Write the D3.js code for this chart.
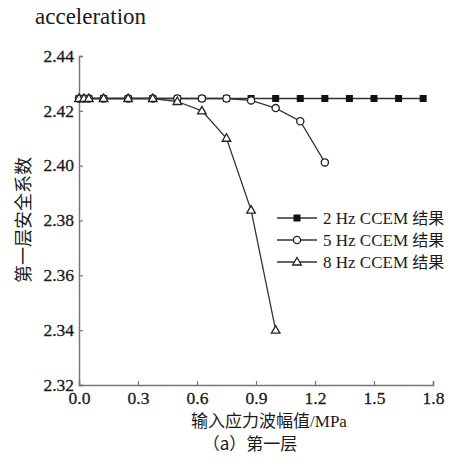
<!DOCTYPE html>
<html>
<head>
<meta charset="utf-8">
<script src="https://cdn.jsdelivr.net/npm/d3@7"></script>
<style>
  body { margin: 0; background: #fff; }
  svg text { font-family: "Liberation Serif", "Times New Roman", serif; fill: #1a1a1a; }
  svg .cjk { font-family: "Noto Sans CJK SC", sans-serif; }
</style>
</head>
<body>
<svg id="chart"></svg>
<script>
// data
let xValues = [0, 0.025, 0.05, 0.125, 0.25, 0.375, 0.5, 0.625, 0.75, 0.875, 1.0, 1.125, 1.25, 1.375, 1.5, 1.625, 1.75]
let hz2 = [2.4245, 2.4245, 2.4245, 2.4245, 2.4245, 2.4245, 2.4245, 2.4245, 2.4245, 2.4245, 2.4245, 2.4245, 2.4245, 2.4245, 2.4245, 2.4245, 2.4245]
let hz5 = [2.4245, 2.4245, 2.4245, 2.4245, 2.4245, 2.4245, 2.4245, 2.4245, 2.4245, 2.4238, 2.421, 2.4162, 2.4012]
let hz8 = [2.4245, 2.4245, 2.4245, 2.4245, 2.4245, 2.4245, 2.4234, 2.420, 2.410, 2.3838, 2.340]
let seriesHz = ["2 Hz CCEM ", "5 Hz CCEM ", "8 Hz CCEM "]
let seriesSuffix = "结果"
let xTicks = [0, 0.3, 0.6, 0.9, 1.2, 1.5, 1.8]
let yTicks = [2.32, 2.34, 2.36, 2.38, 2.40, 2.42, 2.44]

let width = 470
let height = 467

let svg = d3.select("#chart").attr("width", width).attr("height", height)

let xScale = d3.scaleLinear().domain([0, 1.8]).range([79, 433])
let yScale = d3.scaleLinear().domain([2.32, 2.44]).range([385, 56])

let serif = "'Liberation Serif', 'Times New Roman', serif"

// title fragment at the top
svg.append("text")
    .attr("x", 35).attr("y", 24)
    .style("font-size", "23px")
    .text("acceleration")

// axes
let axisColor = "#777"
let xAxis = d3.axisBottom(xScale).tickValues(xTicks).tickSize(-4).tickFormat(d3.format(".1f"))
let yAxis = d3.axisLeft(yScale).tickValues(yTicks).tickSize(-4).tickFormat(d3.format(".2f"))

let gx = svg.append("g")
    .attr("transform", "translate(0," + yScale(2.32) + ")")
    .call(xAxis)
gx.attr("font-family", serif)
gx.selectAll("text").attr("y", 5).attr("dy", "0.8em")
    .style("font-family", serif).style("font-size", "17.5px")
    .attr("stroke", "#1a1a1a").attr("stroke-width", 0.3)

let gy = svg.append("g")
    .attr("transform", "translate(" + xScale(0) + ",0)")
    .call(yAxis)
gy.attr("font-family", serif)
gy.selectAll("text").attr("x", -5).attr("dy", "0.3em")
    .style("font-family", serif).style("font-size", "17.5px")
    .attr("stroke", "#1a1a1a").attr("stroke-width", 0.3)

svg.selectAll(".domain").attr("stroke", axisColor).attr("stroke-width", 1.5)
svg.selectAll(".tick line").attr("stroke", axisColor).attr("stroke-width", 1.2)

// axis titles
svg.append("text")
    .attr("class", "cjk")
    .attr("transform", "translate(30," + 220 + ") rotate(-90)")
    .attr("text-anchor", "middle")
    .style("font-size", "18px")
    .text("第一层安全系数")

let xt = svg.append("text")
    .attr("x", 269).attr("y", 427)
    .attr("text-anchor", "middle")
    .style("font-size", "17px")
xt.append("tspan").attr("class", "cjk").text("输入应力波幅值")
xt.append("tspan").text("/MPa")

svg.append("text")
    .attr("class", "cjk")
    .attr("x", 250).attr("y", 450)
    .attr("text-anchor", "middle")
    .style("font-size", "17px")
    .text("（a）第一层")

// series
let lineColor = "#333"
let line = d3.line()
    .x((d) => xScale(d[0]))
    .y((d) => yScale(d[1]))

let allSeries = [hz2, hz5, hz8].map((vals) => vals.map((v, i) => [xValues[i], v]))

let drawMarker = (g, type, x, y) => {
    if (type === 0) {
        g.append("rect")
            .attr("x", x - 3.5).attr("y", y - 3.5)
            .attr("width", 7).attr("height", 7)
            .attr("fill", "#111")
    } else if (type === 1) {
        g.append("circle")
            .attr("cx", x).attr("cy", y).attr("r", 3.6)
            .attr("fill", "#fff").attr("stroke", "#222").attr("stroke-width", 1.3)
    } else {
        g.append("path")
            .attr("d", d3.symbol().type(d3.symbolTriangle).size(32)())
            .attr("transform", "translate(" + x + "," + (y + 0.5) + ")")
            .attr("fill", "#fff").attr("stroke", "#222").attr("stroke-width", 1.3)
    }
}

allSeries.forEach((pts, k) => {
    let g = svg.append("g")
    g.append("path")
        .datum(pts)
        .attr("d", line)
        .attr("fill", "none")
        .attr("stroke", lineColor)
        .attr("stroke-width", 1.3)
    pts.forEach((p) => drawMarker(g, k, xScale(p[0]), yScale(p[1])))
})

// legend
let legendY = [218, 240, 262]
seriesHz.forEach((name, k) => {
    let g = svg.append("g")
    g.append("line")
        .attr("x1", 277).attr("x2", 317)
        .attr("y1", legendY[k]).attr("y2", legendY[k])
        .attr("stroke", lineColor).attr("stroke-width", 1.3)
    drawMarker(g, k, 297, legendY[k])
    let t = g.append("text")
        .attr("x", 323).attr("y", legendY[k] + 6)
        .style("font-size", "17px")
    t.append("tspan").text(name)
    t.append("tspan").attr("class", "cjk").style("font-size", "16px").text(seriesSuffix)
})
</script>
</body>
</html>
